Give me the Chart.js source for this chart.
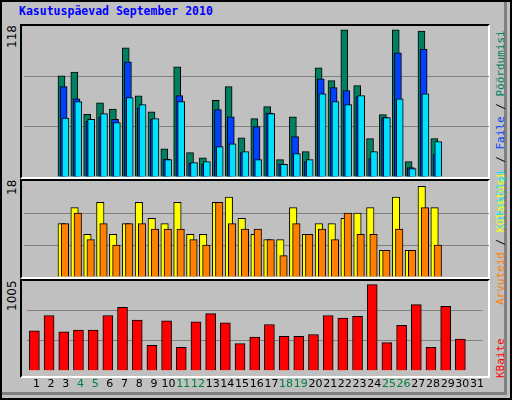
<!DOCTYPE html>
<html><head><meta charset="utf-8">
<script src="https://cdn.jsdelivr.net/npm/chart.js@4"></script>
<style>
body{margin:0;background:#fff}
#wrap{position:absolute;left:0;top:0;width:508px;height:396px;background:#c0c0c0;border:2px solid #000;}
#bev{position:absolute;left:2px;top:2px;width:505px;height:393px;border-right:3px solid #808080;border-bottom:3px solid #808080;box-sizing:border-box}
.panel{position:absolute;left:20px;width:470px;border-left:2px solid #000;border-top:2px solid #000;border-right:2px solid #fff;border-bottom:2px solid #fff;box-sizing:border-box}
canvas{position:absolute}
.t{position:absolute;font-family:"DejaVu Sans Mono",monospace;font-size:11px;white-space:nowrap}
.rot{transform-origin:0 0;transform:rotate(-90deg)}
</style></head><body>
<div id="wrap"></div><div id="bev"></div>
<div class="t" style="left:19px;top:4px;font-size:11.5px;font-weight:bold;color:#0000ff">Kasutuspäevad September 2010</div>
<div class="panel" style="top:24px;height:155px"></div>
<div class="panel" style="top:179px;height:100px"></div>
<div class="panel" style="top:279px;height:99px"></div>
<div class="t rot" style="left:5px;top:48px;font-family:'DejaVu Sans';font-size:12px">118</div>
<div class="t rot" style="left:5px;top:195px;font-family:'DejaVu Sans';font-size:12px">18</div>
<div class="t rot" style="left:5px;top:311px;font-family:'DejaVu Sans';font-size:12px">1005</div>
<div class="t rot" style="left:494px;top:229px"><span style="color:#00e0ff">Lehekülgi</span> / <span style="color:#0040ff">Faile</span> / <span style="color:#008060">Pöördumisi</span></div>
<div class="t rot" style="left:494px;top:305px"><span style="color:#ff8000">Arvuteid</span> / <span style="color:#ffff00">Külastusi</span></div>
<div class="t rot" style="left:494px;top:378px;color:#ff0000">KBaite</div>
<canvas id="c1" style="left:23.8px;top:26px;width:465px;height:151px"></canvas>
<canvas id="c2" style="left:23.8px;top:181px;width:465px;height:96px"></canvas>
<canvas id="c3" style="left:23.8px;top:281px;width:465px;height:117px"></canvas>
<script>
const days=Array.from({length:31},(_,i)=>String(i+1));
const weekendDays=[4,5,11,12,18,19,25,26];
const hits=[79,82,49,58,53,101,63.5,51,22,86,19,15,60,70.6,30.7,45.6,55,13.6,47,19.8,85.4,75.3,115,71.4,30,48.7,115,12,114,30,null];
const files=[70.6,61,43.5,47,45,90,54,45,14,63.6,10.7,10,52.6,47,19,39.4,50,10,31.5,12,76.8,69.8,67.5,62.8,14.3,46.4,97,7.3,100,17.5,null];
const pages=[46,59,45,49.5,42.5,62,56.5,45.6,13.6,59,11.2,12,23.7,26,19.8,13.6,49.5,9.9,18.3,13.6,65,59,56.5,63.6,19.8,46.4,61,6.5,65,27.6,null];
const visits=[10,13,8,14,8,10,14,11,10,14,8,8,14,15,11,8,7,7,13,8,10,10,11,12,13,5,15,5,17,13,null];
const sites=[10,12,7,10,6,10,10,9,9,9,7,6,14,10,9,9,7,4,10,8,9,7,12,8,8,5,9,5,13,6,null];
const kbytes=[447,619,437,457,457,619,711,569,284,558,264,548,640,538,305,376,518,386,386,406,619,589,609,964,315,508,741,264,721,355,null];
const maxTop=118,maxMid=18,maxBot=1005;
Chart.defaults.animation=false;
const grid=(max)=>({color:c=>(c.tick.value>0&&c.tick.value<max-0.01)?'#808080':'rgba(0,0,0,0)',lineWidth:1,drawTicks:false});
function pts(arr,shift){return arr.map((v,i)=>v==null?null:{x:i+1+shift,y:v}).filter(p=>p);}
function bar(data,color,shift,w){return {data:pts(data,shift),backgroundColor:color,borderColor:'#000',borderWidth:1,barThickness:w,grouped:false};}
const linX={type:'linear',min:0.5,max:31.5,display:false};
const yOpt=(max)=>({min:0,max:max,display:true,border:{display:false},ticks:{display:false,stepSize:max/3},grid:grid(max)});
const base={responsive:false,maintainAspectRatio:false,plugins:{legend:{display:false},tooltip:{enabled:false}},layout:{padding:0}};
function mk(id,w,h,cfg){const c=document.getElementById(id);c.width=w;c.height=h;return new Chart(c,cfg);}
mk('c1',465,151,{type:'bar',data:{datasets:[bar(pages,'#00e0ff',0.14,7),bar(files,'#0040ff',0.0,7),bar(hits,'#008060',-0.17,7)]},
 options:{...base,scales:{x:linX,y:yOpt(maxTop)}}});
mk('c2',465,96,{type:'bar',data:{datasets:[bar(sites,'#ff8000',0.1,7.5),bar(visits,'#ffff00',-0.15,7.5)]},
 options:{...base,scales:{x:linX,y:yOpt(maxMid)}}});
mk('c3',465,117,{type:'bar',data:{labels:days,datasets:[{data:kbytes,backgroundColor:'#ff0000',borderColor:'#000',borderWidth:1,barThickness:10}]},
 options:{...base,scales:{x:{type:'category',border:{display:false},grid:{display:false,drawTicks:false},
  ticks:{padding:7,labelOffset:2,autoSkip:false,maxRotation:0,font:{family:'DejaVu Sans',size:11},color:c=>weekendDays.includes(c.index+1)?'#008040':'#000'}},
  y:yOpt(maxBot)}}});
</script></body></html>
